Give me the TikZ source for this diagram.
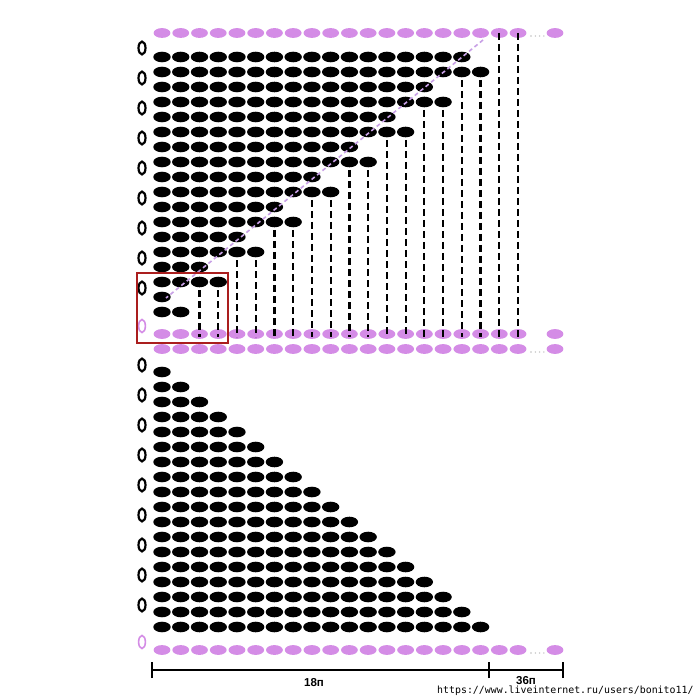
\documentclass[tikz,border=0pt]{standalone}
\usepackage{fontspec}
\setmainfont{Liberation Sans}
\newfontfamily\urlfont{DejaVu Sans Mono}
\definecolor{pinkoval}{RGB}{212,140,230}
\definecolor{lavline}{RGB}{200,160,230}
\definecolor{boxred}{RGB}{170,30,30}
\begin{document}
\begin{tikzpicture}[x=1pt,y=-1pt,
  blackoval/.style={fill=black},
  pinkov/.style={fill=pinkoval},
  zeromark/.style={draw=black,line width=2.2pt},
  pinkzero/.style={draw=pinkoval,line width=1.6pt},
  guide/.style={draw=black,line width=2.2pt,dash pattern=on 7pt off 4pt},
  diag/.style={draw=lavline,line width=1.6pt,dash pattern=on 4pt off 3pt},
  dotsgray/.style={fill=black!25},
  ruler/.style={draw=black,line width=2pt},
  lbl/.style={font=\bfseries\fontsize{11.5}{12}\selectfont,inner sep=0pt}]
\useasboundingbox (0,0) rectangle (700,700);
\fill[white] (0,0) rectangle (700,700);
% ---------- pink rows ----------
\foreach \yy/\dt in {33/1,334/0,349/1,650/1}{
  \foreach \k in {0,...,19}{
    \fill[pinkov] ({162+18.74*\k},\yy) ellipse [x radius=8.4, y radius=4.9];
  }
  \fill[pinkov] (555,\yy) ellipse [x radius=8.4, y radius=4.9];
  \ifnum\dt=1
    \foreach \d in {0,1,2,3}{\fill[dotsgray] ({531+4.3*\d},{\yy+3}) circle (0.8);}
  \fi
}
% ---------- top section black rows ----------
\foreach \j in {0,...,8}{
  \pgfmathtruncatemacro{\na}{16-2*\j}
  \pgfmathtruncatemacro{\nb}{17-2*\j}
  \pgfmathsetmacro{\ya}{57+30*\j}
  \pgfmathsetmacro{\yb}{72+30*\j}
  \foreach \k in {0,...,\na}{
    \fill[blackoval] ({162+18.74*\k},\ya) ellipse [x radius=8.7, y radius=5.3];
  }
  \foreach \k in {0,...,\nb}{
    \fill[blackoval] ({162+18.74*\k},\yb) ellipse [x radius=8.7, y radius=5.3];
  }
}
% ---------- dashed guides ----------
\foreach \k in {2,...,17}{
  \pgfmathtruncatemacro{\jj}{(17-\k)/2}
  \pgfmathsetmacro{\ys}{72+30*\jj+8}
  \draw[guide] ({162+18.74*\k},\ys) -- ({162+18.74*\k},337);
}
\foreach \k in {18,19}{
  \draw[guide] ({162+18.74*\k},33) -- ({162+18.74*\k},337);
}
% ---------- diagonal ----------
\draw[diag] (483,40) -- (166,298);
% ---------- bottom section ----------
\foreach \i in {1,...,18}{
  \pgfmathtruncatemacro{\nn}{\i-1}
  \pgfmathsetmacro{\yy}{372+15*(\i-1)}
  \foreach \k in {0,...,\nn}{
    \fill[blackoval] ({162+18.74*\k},\yy) ellipse [x radius=8.7, y radius=5.3];
  }
}
% ---------- zero markers ----------
\foreach \m in {0,...,8}{
  \draw[zeromark] (142,{48+30*\m}) ellipse [x radius=3.5, y radius=6.4];
  \draw[zeromark] (142,{365+30*\m}) ellipse [x radius=3.5, y radius=6.4];
}
\draw[pinkzero] (142,326) ellipse [x radius=3.4, y radius=6.5];
\draw[pinkzero] (142,642) ellipse [x radius=3.4, y radius=6.5];
% ---------- red frame ----------
\draw[boxred,line width=1.8pt] (137,273) rectangle (228,343);
% ---------- ruler ----------
\coordinate (r0) at (152,670);
\coordinate (r1) at (489,670);
\coordinate (r2) at (563,670);
\draw[ruler] (r0) -- (r2);
\foreach \c in {r0,r1,r2}{\draw[ruler] ([yshift=-8pt]\c) -- ([yshift=8pt]\c);}
\node[lbl] (l18) at (314,683) {18п};
\node[lbl] (l36) at (526,681) {36п};
\node[font=\urlfont\fontsize{9.9}{11}\selectfont,inner sep=0pt,anchor=west] (url) at (437,691) {https://www.liveinternet.ru/users/bonito11/};
\end{tikzpicture}
\end{document}
